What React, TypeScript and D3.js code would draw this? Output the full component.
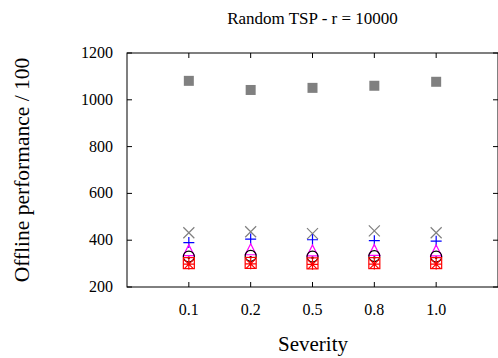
import React from "react";
import * as d3 from "d3";

const categories = ["0.1", "0.2", "0.5", "0.8", "1.0"];
const yTicks = [200, 400, 600, 800, 1000, 1200];
const graySquare = [1081, 1042, 1051, 1060, 1077];
const grayCross = [432, 436, 428, 440, 432];
const bluePlus = [390, 405, 402, 398, 396];
const magentaTriangle = [353, 357, 352, 354, 352];
const blackCircle = [330, 333, 330, 332, 330];
const blackDot = [325, 327, 325, 326, 325];
const redSquare = [302, 303, 301, 302, 302];
const redStar = [298, 299, 297, 298, 298];

const W = 498, H = 358;
const L = 127, R = 498, T = 53, B = 287;
const FONT = "Liberation Serif, Times New Roman, serif";

export default function App() {
  const x = d3.scaleLinear().domain([0, 6]).range([L, R]);
  const y = d3.scaleLinear().domain([200, 1200]).range([B, T]);
  const s = 5.5;
  const xs = categories.map((_, i) => x(i + 1));
  const ts = { fontFamily: FONT };

  return (
    <svg width={W} height={H} style={{ position: "absolute", left: 0, top: 0 }}>
      <rect width={W} height={H} fill="white" />
      <text x={(L + R) / 2} y={24} textAnchor="middle" fontSize={17} style={ts}>Random TSP - r = 10000</text>
      <rect x={L} y={T} width={R - L} height={B - T} fill="none" stroke="black" strokeWidth={1} />
      {yTicks.map((t) => (
        <g key={"y" + t}>
          <line x1={L} x2={L + 5} y1={y(t)} y2={y(t)} stroke="black" />
          <line x1={R - 5} x2={R} y1={y(t)} y2={y(t)} stroke="black" />
          <text x={L - 14} y={y(t) + 5} textAnchor="end" fontSize={16} style={ts}>{t}</text>
        </g>
      ))}
      {categories.map((c, i) => (
        <g key={"x" + c}>
          <line x1={xs[i]} x2={xs[i]} y1={B} y2={B - 5} stroke="black" />
          <line x1={xs[i]} x2={xs[i]} y1={T} y2={T + 5} stroke="black" />
          <text x={xs[i]} y={B + 28} textAnchor="middle" fontSize={16} style={ts}>{c}</text>
        </g>
      ))}
      <text x={313} y={351} textAnchor="middle" fontSize={21} style={ts}>Severity</text>
      <text transform={`translate(29,${(T + B) / 2}) rotate(-90)`} textAnchor="middle" fontSize={21.5} style={ts}>Offline performance / 100</text>

      {graySquare.map((v, i) => (
        <rect key={"gs" + i} x={xs[i] - 5} y={y(v) - 5} width={10} height={10} fill="#808080" />
      ))}
      {grayCross.map((v, i) => (
        <path key={"gc" + i} d={`M${xs[i] - s},${y(v) - s}L${xs[i] + s},${y(v) + s}M${xs[i] - s},${y(v) + s}L${xs[i] + s},${y(v) - s}`} stroke="#808080" strokeWidth={1.2} fill="none" />
      ))}
      {bluePlus.map((v, i) => (
        <path key={"bp" + i} d={`M${xs[i] - s},${y(v)}L${xs[i] + s},${y(v)}M${xs[i]},${y(v) - s}L${xs[i]},${y(v) + s}`} stroke="#0000ff" strokeWidth={1.2} fill="none" />
      ))}
      {magentaTriangle.map((v, i) => (
        <path key={"mt" + i} d={`M${xs[i]},${y(v) - s - 1}L${xs[i] + s},${y(v) + s - 1}L${xs[i] - s},${y(v) + s - 1}Z`} stroke="#ff00ff" strokeWidth={1.2} fill="none" />
      ))}
      {blackCircle.map((v, i) => (
        <circle key={"bc" + i} cx={xs[i]} cy={y(v)} r={s} stroke="black" strokeWidth={1.2} fill="none" />
      ))}
      {blackDot.map((v, i) => (
        <circle key={"bd" + i} cx={xs[i]} cy={y(v)} r={1.3} fill="black" />
      ))}
      {redSquare.map((v, i) => (
        <rect key={"rs" + i} x={xs[i] - s} y={y(v) - s} width={2 * s} height={2 * s} stroke="#ff0000" strokeWidth={1.2} fill="none" />
      ))}
      {redStar.map((v, i) => (
        <path key={"rx" + i} d={`M${xs[i] - s},${y(v)}L${xs[i] + s},${y(v)}M${xs[i]},${y(v) - s}L${xs[i]},${y(v) + s}M${xs[i] - s + 1},${y(v) - s + 1}L${xs[i] + s - 1},${y(v) + s - 1}M${xs[i] - s + 1},${y(v) + s - 1}L${xs[i] + s - 1},${y(v) - s + 1}`} stroke="#ff0000" strokeWidth={1.2} fill="none" />
      ))}
    </svg>
  );
}
